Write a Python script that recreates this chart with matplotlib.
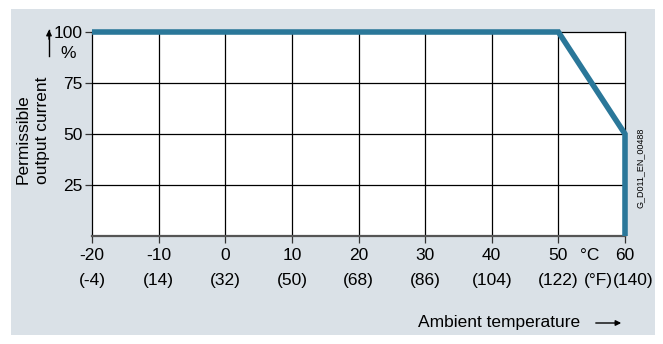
import matplotlib
matplotlib.use("Agg")
from matplotlib import pyplot as plt
from matplotlib import transforms
from matplotlib.patches import Rectangle

plt.rcParams['font.family'] = ['Liberation Sans', 'DejaVu Sans']

# derating curve
temp_c = [-20, 50, 60, 60]
current_pct = [100, 100, 50, 0]

# axis ticks
ticks_c = [-20, -10, 0, 10, 20, 30, 40, 50, 60]
ticks_f = [-4, 14, 32, 50, 68, 86, 104, 122, 140]
ticks_y = [25, 50, 75, 100]

FS = 12.5
W, H = 663, 344
fig = plt.figure(figsize=(W / 100, H / 100), dpi=100)
fig.patch.set_facecolor('white')
fig.patches.append(Rectangle((11 / W, 1 - 335 / H), (655 - 11) / W, (335 - 9) / H,
                             transform=fig.transFigure, facecolor='#dae1e7',
                             edgecolor='none', zorder=-10))

ax = fig.add_axes([92 / W, 1 - 236 / H, (625 - 92) / W, (236 - 32) / H])
ax.set_facecolor('white')
ax.set_xlim(-20, 60)
ax.set_ylim(0, 100)

for x in ticks_c[1:-1]:
    ax.axvline(x, color='black', lw=0.9, zorder=1)
for y in ticks_y[:-1]:
    ax.axhline(y, color='black', lw=0.9, zorder=1)

ax.plot(temp_c, current_pct, color='#2a7799', lw=4, clip_on=False,
        solid_capstyle='butt', solid_joinstyle='miter', zorder=3)

for s in ['left', 'right', 'top']:
    ax.spines[s].set_color('black')
    ax.spines[s].set_linewidth(0.9)
ax.spines['bottom'].set_color('#555555')
ax.spines['bottom'].set_linewidth(1.6)

ax.set_xticks(ticks_c)
ax.set_xticklabels([])
ax.set_yticks(ticks_y)
ax.set_yticklabels([str(v) for v in ticks_y], fontsize=FS)
ax.tick_params(axis='both', direction='out', length=5, width=0.9, color='#333333')
ax.tick_params(axis='y', pad=2)

# x tick labels: degC row and degF row
tr = transforms.blended_transform_factory(ax.transData, fig.transFigure)
for i, (c, f) in enumerate(zip(ticks_c, ticks_f)):
    fig.text(c, 1 - 255 / H, '%d' % c, transform=tr, ha='center', va='center', fontsize=FS)
    shift = 8 / 66.6 * 10 if i == len(ticks_c) - 1 else 0
    fig.text(c + shift, 1 - 281 / H, '(%d)' % f, transform=tr, ha='center', va='center', fontsize=FS)

# unit labels
fig.text(590 / W, 1 - 255 / H, '°C', ha='center', va='center', fontsize=FS)
fig.text(598 / W, 1 - 281 / H, '(°F)', ha='center', va='center', fontsize=FS)

# y label
fig.text(33 / W, 1 - 184 / H, 'Permissible\noutput current', rotation=90,
         ha='center', va='bottom', multialignment='left', fontsize=FS, linespacing=1.35)
fig.text(68 / W, 1 - 53 / H, '%', ha='center', va='center', fontsize=FS)
fig.add_artist(plt.Line2D([49 / W, 49 / W], [1 - 56 / H, 1 - 30 / H], color='black', lw=1))
ax.annotate('', xy=(49 / W, 1 - 27 / H), xytext=(49 / W, 1 - 42 / H),
            xycoords='figure fraction', annotation_clip=False,
            arrowprops=dict(arrowstyle='-|>', color='black', lw=1, mutation_scale=8))

# x label
fig.text(580 / W, 1 - 322 / H, 'Ambient temperature', ha='right', va='center', fontsize=FS)
ax.annotate('', xy=(624 / W, 1 - 323 / H), xytext=(593 / W, 1 - 323 / H),
            xycoords='figure fraction', annotation_clip=False,
            arrowprops=dict(arrowstyle='-|>', color='black', lw=1, mutation_scale=8))

fig.text(640 / W, 1 - 168 / H, 'G_D011_EN_00488', rotation=90, ha='center',
         va='center', fontsize=6.5)

fig.savefig('out.png', dpi=100)
